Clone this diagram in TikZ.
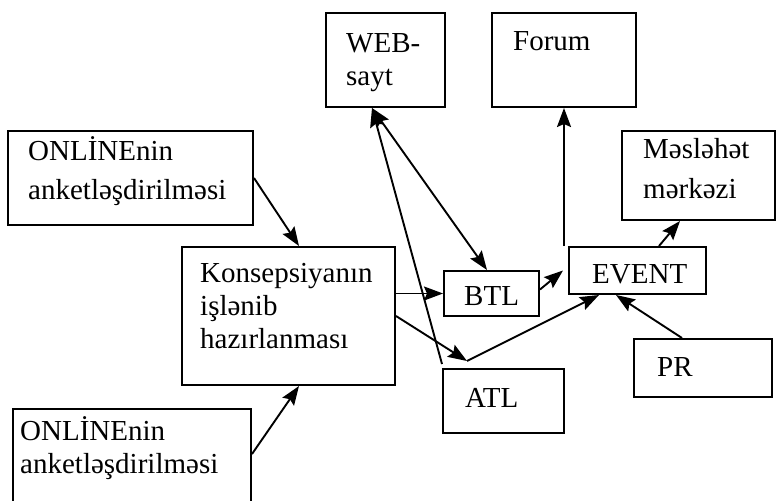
\documentclass[tikz,border=0pt]{standalone}
\usepackage{fontspec}
\setmainfont{Liberation Serif}
\usetikzlibrary{arrows.meta,calc}
\tikzset{
  box/.style={draw, line width=2pt, rectangle, inner sep=0pt},
  label/.style={anchor=base west, inner sep=0pt, align=left, font=\fontsize{29}{33}\selectfont},
  link/.style={line width=1.9pt, -{Stealth[length=19pt,width=14pt,inset=3pt]}},
  link2/.style={line width=1.9pt, {Stealth[length=19pt,width=14pt,inset=3pt]}-{Stealth[length=19pt,width=14pt,inset=3pt]}}
}
\begin{document}
\begin{tikzpicture}[x=1pt,y=-1pt]
\clip (0,0) rectangle (777,501);
\fill[white] (0,0) rectangle (777,501);

% boxes
\node[box, minimum width=119pt, minimum height=94pt] (web) at (385.5,60) {};
\node[box, minimum width=144pt, minimum height=94pt] (forum) at (564,60) {};
\node[box, minimum width=245pt, minimum height=94pt] (on1) at (130.5,178) {};
\node[box, minimum width=153pt, minimum height=89pt] (mas) at (698.5,175.5) {};
\node[box, minimum width=213pt, minimum height=138pt] (konz) at (288.5,316) {};
\node[box, minimum width=95pt, minimum height=45pt] (btl) at (491.5,293.5) {};
\node[box, minimum width=137pt, minimum height=47pt] (event) at (637.5,270.5) {};
\node[box, minimum width=121pt, minimum height=64pt] (atl) at (503.5,401) {};
\node[box, minimum width=138pt, minimum height=58pt] (pr) at (703,368) {};
\node[box, minimum width=238pt, minimum height=121pt] (on2) at (132,469.5) {};

% texts (anchored at the baseline of their last line)
\node[label] (tweb) at (346,85) {WEB-\\sayt};
\node[label] (tforum) at (513,50) {Forum};
\node[label] (ton1) at (28,199) {ONLİNEnin\\[6pt]anketləşdirilməsi};
\node[label] (tmas) at (643,198) {Məsləhət\\[7pt]mərkəzi};
\node[label] (tkonz) at (200,348) {Konsepsiyanın\\işlənib\\hazırlanması};
\node[label] (tbtl) at (464,305) {BTL};
\node[label] (tevent) at (592,283) {EVENT};
\node[label] (tatl) at (465,407) {ATL};
\node[label] (tpr) at (657,376) {PR};
\node[label] (ton2) at (20,473) {ONLİNEnin\\anketləşdirilməsi};

% helper points
\coordinate (atltop) at ([xshift=25pt,yshift=7pt]atl.north west);
\coordinate (fbase) at ([xshift=-4pt]event.north west);

% connectors
\draw[link] (on1.east) -- ([xshift=118pt]konz.north west);
\draw[link] ([yshift=-46pt]on2.north east) -- ([xshift=118pt]konz.south west);
\draw[link] (konz.east |- btl.west) -- (btl.west);
\draw[link] ([yshift=-70pt]konz.north east) -- (atltop);
\draw[link] (atltop) -- ([xshift=31pt]event.south west);
\draw[link] ([yshift=4pt]atl.north west) -- ([xshift=47pt]web.south west);
\draw[link2] ([xshift=47pt]web.south west) -- ([xshift=44pt]btl.north west);
\draw[link] ([yshift=4pt]btl.east) -- ([xshift=-5pt]event.west);
\draw[link] ([xshift=49pt]pr.north west) -- ([xshift=48pt]event.south west);
\draw[link] ([xshift=91pt]event.north west) -- ([xshift=59pt]mas.south west);
\draw[link] (fbase) -- ([xshift=73pt]forum.south west);
\end{tikzpicture}
\end{document}
